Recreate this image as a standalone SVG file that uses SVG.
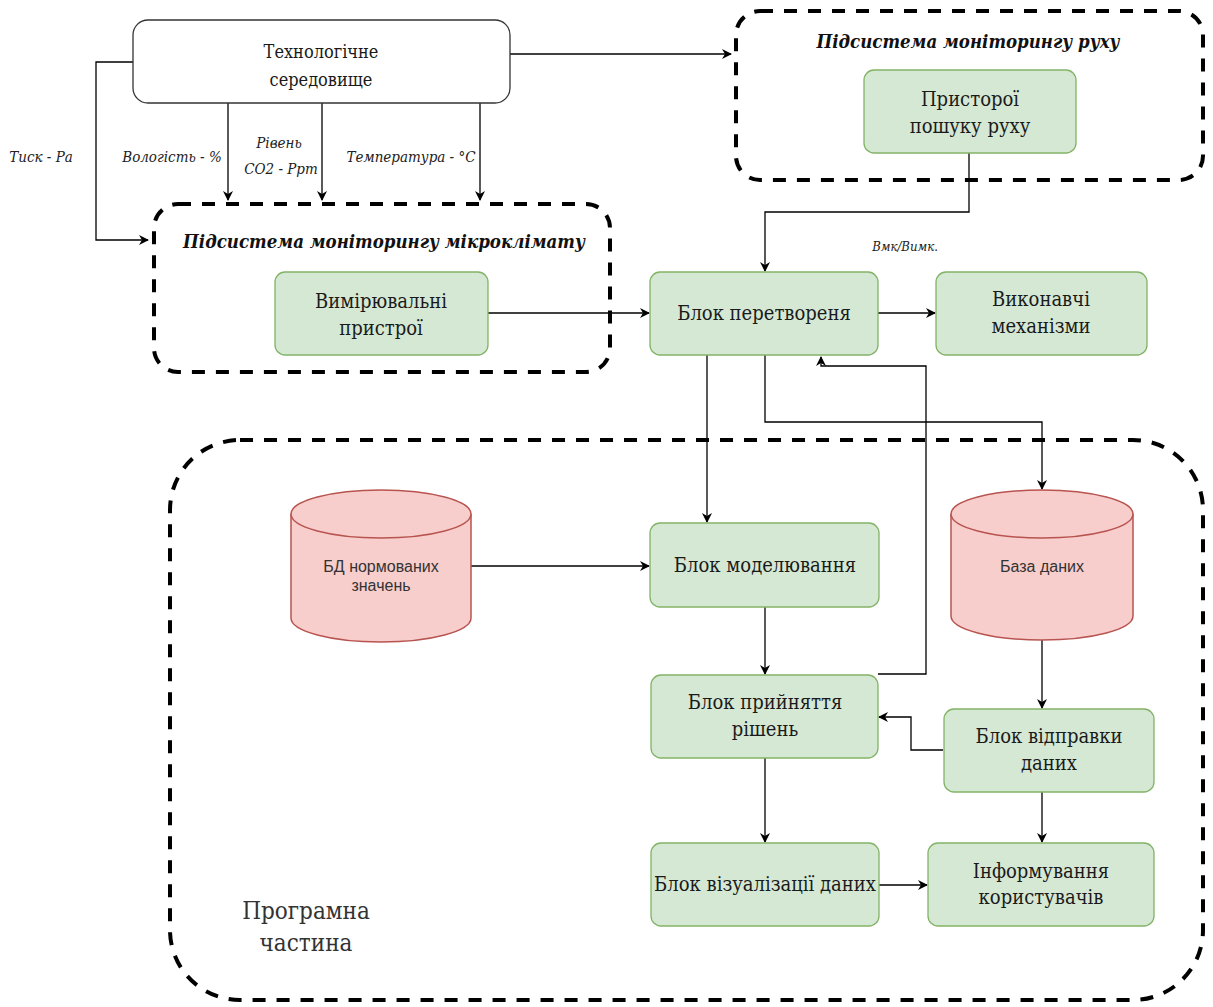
<svg xmlns="http://www.w3.org/2000/svg" width="1213" height="1007" viewBox="0 0 1213 1007">
<defs>
<marker id="arr" viewBox="0 0 10 10" refX="9" refY="5" markerWidth="10" markerHeight="10" markerUnits="userSpaceOnUse" orient="auto">
<path d="M0,0 L10,5 L0,10 L3,5 Z" fill="#000"/>
</marker>
<style>
.grp{fill:none;stroke:#000;stroke-width:4;stroke-dasharray:13 11}
.g{fill:#d5e8d4;stroke:#82b366;stroke-width:1.3}
.r{fill:#f8cecc;stroke:#b85450;stroke-width:1.5}
.t{font-family:"DejaVu Serif","Noto Serif",serif;font-stretch:condensed;font-size:20px;fill:#1a1a1a;text-anchor:middle}
.s{font-family:"Liberation Sans",Arial,sans-serif;font-size:16px;fill:#333;text-anchor:middle}
.lbl{font-family:"DejaVu Serif","Noto Serif",serif;font-stretch:condensed;font-style:italic;font-size:15px;fill:#222;text-anchor:middle}
.ttl{font-family:"DejaVu Serif","Noto Serif",serif;font-stretch:condensed;font-style:italic;font-weight:bold;font-size:18.5px;fill:#111;text-anchor:middle}
.big{font-family:"DejaVu Serif","Noto Serif",serif;font-stretch:condensed;font-size:24px;fill:#333;text-anchor:middle}
.c{fill:none;stroke:#000;stroke-width:1.3}
</style>
</defs>
<rect width="1213" height="1007" fill="#fff"/>

<g id="group-microclimate">
<rect class="grp" x="154" y="204" width="456" height="168" rx="24"/>
<text class="ttl" x="384" y="248">Підсистема моніторингу мікроклімату</text>
</g>
<g id="group-motion">
<rect class="grp" x="736" y="11" width="467" height="169" rx="24"/>
<text class="ttl" x="968" y="48">Підсистема моніторингу руху</text>
</g>
<g id="group-software">
<rect class="grp" x="170" y="440" width="1033" height="560" rx="70"/>
<text class="big" x="306" y="919">Програмна</text>
<text class="big" x="306" y="951">частина</text>
</g>

<g id="connectors">
<path class="c" d="M133,62 H96 V240 H148" marker-end="url(#arr)"/>
<path class="c" d="M228,103 V200" marker-end="url(#arr)"/>
<path class="c" d="M322,103 V200" marker-end="url(#arr)"/>
<path class="c" d="M480,103 V200" marker-end="url(#arr)"/>
<path class="c" d="M510,54 H731" marker-end="url(#arr)"/>
<path class="c" d="M969,153 V212 H765 V271" marker-end="url(#arr)"/>
<path class="c" d="M488,313 H649" marker-end="url(#arr)"/>
<path class="c" d="M878,313 H935" marker-end="url(#arr)"/>
<path class="c" d="M707,355 V522" marker-end="url(#arr)"/>
<path class="c" d="M765,355 V422 H1042 V489" marker-end="url(#arr)"/>
<path class="c" d="M878,674 H926 V366 H821 V357" marker-end="url(#arr)"/>
<path class="c" d="M470,566 H649" marker-end="url(#arr)"/>
<path class="c" d="M765,607 V674" marker-end="url(#arr)"/>
<path class="c" d="M1042,640 V708" marker-end="url(#arr)"/>
<path class="c" d="M943,750 H911 V717 H879" marker-end="url(#arr)"/>
<path class="c" d="M765,758 V842" marker-end="url(#arr)"/>
<path class="c" d="M1042,792 V842" marker-end="url(#arr)"/>
<path class="c" d="M879,885 H927" marker-end="url(#arr)"/>
<text class="lbl" x="41" y="162">Тиск - Ра</text>
<text class="lbl" x="172" y="162">Вологість - %</text>
<text class="lbl" x="279" y="148">Рівень</text>
<text class="lbl" x="281" y="174">CO2 - Ppm</text>
<text class="lbl" x="411" y="162">Температура - °C</text>
<text class="lbl" x="905" y="251" style="font-size:13px">Вмк/Вимк.</text>
</g>

<g id="node-tech">
<rect x="133" y="20" width="377" height="83" rx="15" fill="#fff" stroke="#333" stroke-width="1.3"/>
<text class="t" x="321" y="58" style="font-size:18px">Технологічне</text>
<text class="t" x="321" y="86" style="font-size:18px">середовище</text>
</g>
<g id="node-measure">
<rect class="g" x="275" y="272" width="213" height="83" rx="10"/>
<text class="t" x="381" y="308">Вимірювальні</text>
<text class="t" x="381" y="335">пристрої</text>
</g>
<g id="node-motion-dev">
<rect class="g" x="864" y="70" width="212" height="83" rx="10"/>
<text class="t" x="970" y="106">Присторої</text>
<text class="t" x="970" y="133">пошуку руху</text>
</g>
<g id="node-convert">
<rect class="g" x="650" y="272" width="228" height="83" rx="10"/>
<text class="t" x="764" y="320">Блок перетвореня</text>
</g>
<g id="node-actuators">
<rect class="g" x="936" y="272" width="211" height="83" rx="10"/>
<text class="t" x="1041" y="306">Виконавчі</text>
<text class="t" x="1041" y="333">механізми</text>
</g>
<g id="node-db-norm">
<path class="r" d="M291,514 A90,24 0 0 1 471,514 V618 A90,24 0 0 1 291,618 Z"/>
<path class="r" d="M291,514 A90,24 0 0 0 471,514" fill="none"/>
<text class="s" x="381" y="572">БД нормованих</text>
<text class="s" x="381" y="591">значень</text>
</g>
<g id="node-model">
<rect class="g" x="650" y="523" width="229" height="84" rx="10"/>
<text class="t" x="765" y="572">Блок моделювання</text>
</g>
<g id="node-db">
<path class="r" d="M951,514 A91,24 0 0 1 1133,514 V616 A91,24 0 0 1 951,616 Z"/>
<path class="r" d="M951,514 A91,24 0 0 0 1133,514" fill="none"/>
<text class="s" x="1042" y="572">База даних</text>
</g>
<g id="node-decision">
<rect class="g" x="651" y="675" width="227" height="83" rx="10"/>
<text class="t" x="765" y="709">Блок прийняття</text>
<text class="t" x="765" y="736">рішень</text>
</g>
<g id="node-send">
<rect class="g" x="944" y="709" width="210" height="83" rx="10"/>
<text class="t" x="1049" y="743">Блок відправки</text>
<text class="t" x="1049" y="770">даних</text>
</g>
<g id="node-visual">
<rect class="g" x="651" y="843" width="228" height="83" rx="10"/>
<text class="t" x="765" y="891">Блок візуалізації даних</text>
</g>
<g id="node-inform">
<rect class="g" x="928" y="843" width="226" height="83" rx="10"/>
<text class="t" x="1041" y="878">Інформування</text>
<text class="t" x="1041" y="904">користувачів</text>
</g>
</svg>
